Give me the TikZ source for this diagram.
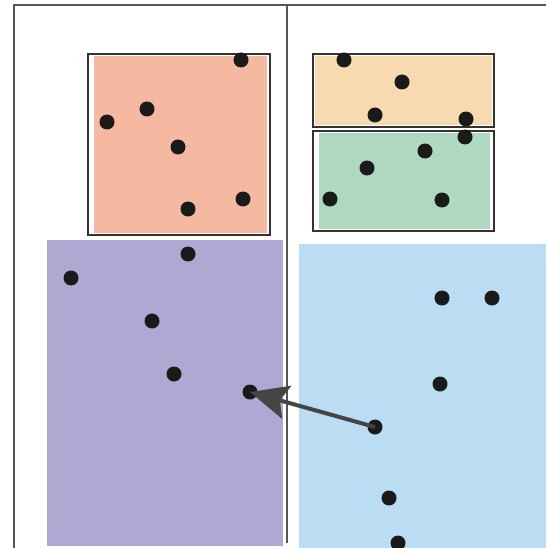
\documentclass[tikz,border=0pt]{standalone}
\usetikzlibrary{arrows.meta}
\definecolor{framegray}{HTML}{555555}
\definecolor{boxline}{HTML}{333333}
\definecolor{salmon}{HTML}{F5B8A1}
\definecolor{lavender}{HTML}{AFA8D2}
\definecolor{peach}{HTML}{F8DAB0}
\definecolor{mint}{HTML}{AED8BF}
\definecolor{skyblue}{HTML}{BADDF4}
\definecolor{dotcol}{HTML}{1A1A1A}
\definecolor{arrowcol}{HTML}{454545}
\tikzset{
  pt/.style={circle,fill=dotcol,inner sep=0pt,minimum size=15pt},
  frameline/.style={draw=framegray,line width=1.8pt},
  boxframe/.style={draw=boxline,line width=2pt},
  moveline/.style={draw=arrowcol,line width=4pt,-{Stealth[length=38pt,width=34pt,inset=7pt]}}
}
\begin{document}
\begin{tikzpicture}[x=1pt,y=-1pt]
\useasboundingbox (0,0) rectangle (546,548);
% regions
\fill[lavender] (47,240) rectangle (283,546);
\fill[skyblue] (299,244) rectangle (546,548);
\fill[salmon] (94,56) rectangle (267,233);
\draw[boxframe] (88,54) rectangle (270,235);
\fill[peach] (315,56) rectangle (492,125);
\draw[boxframe] (313,54) rectangle (494,127);
\fill[mint] (319,133) rectangle (490,229);
\draw[boxframe] (313,131) rectangle (494,231);
% frame
\draw[frameline] (14,548) -- (14,5) -- (546,5);
\draw[frameline] (287,5) -- (287,543);
% points
\node[pt] (s1) at (241,60) {};
\node[pt] (s2) at (147,109) {};
\node[pt] (s3) at (107,122) {};
\node[pt] (s4) at (178,147) {};
\node[pt] (s5) at (188,209) {};
\node[pt] (s6) at (243,199) {};
\node[pt] (p1) at (188,254) {};
\node[pt] (p2) at (71,278) {};
\node[pt] (p3) at (152,321) {};
\node[pt] (p4) at (174,374) {};
\node[pt] (p5) at (250,392) {};
\node[pt] (o1) at (344,60) {};
\node[pt] (o2) at (402,82) {};
\node[pt] (o3) at (375,115) {};
\node[pt] (o4) at (466,119) {};
\node[pt] (g1) at (465,137) {};
\node[pt] (g2) at (425,151) {};
\node[pt] (g3) at (367,168) {};
\node[pt] (g4) at (330,199) {};
\node[pt] (g5) at (442,200) {};
\node[pt] (b1) at (442,298) {};
\node[pt] (b2) at (492,298) {};
\node[pt] (b3) at (440,384) {};
\node[pt] (b4) at (375,427) {};
\node[pt] (b5) at (389,498) {};
\node[pt] (b6) at (398,543) {};
% move
\draw[moveline] (b4.center) -- (p5.center);
\end{tikzpicture}
\end{document}
